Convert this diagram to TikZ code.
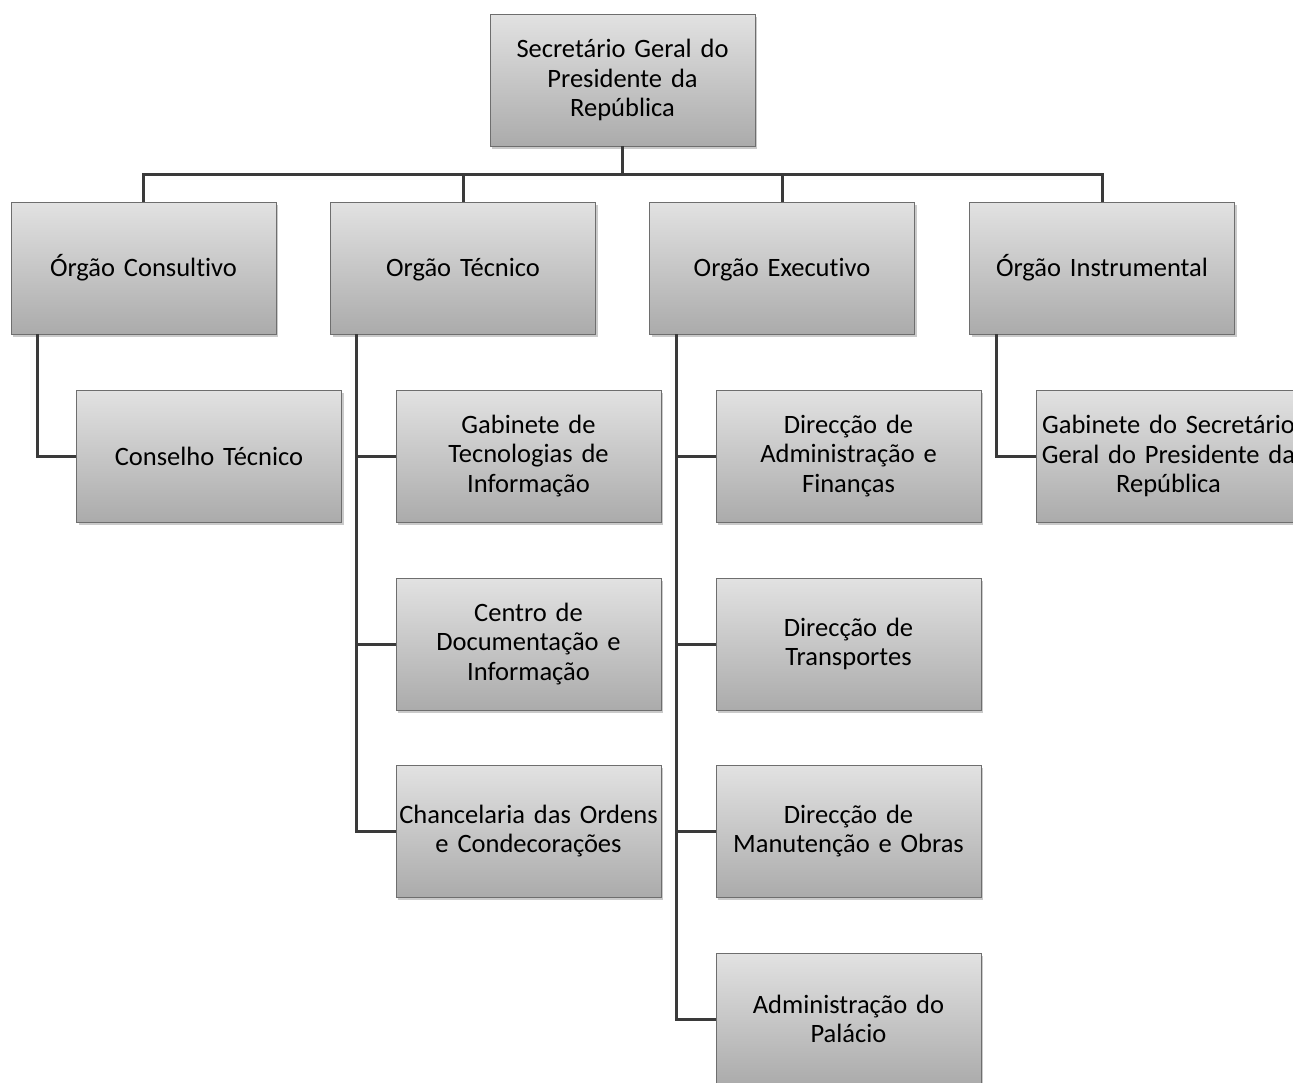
\documentclass[tikz,border=0pt]{standalone}
\usepackage{fontspec}
\setmainfont{Carlito}[Ligatures=NoCommon]
\usetikzlibrary{shadows}
\definecolor{boxtop}{HTML}{E2E2E2}
\definecolor{boxbot}{HTML}{ABABAB}
\definecolor{boxline}{HTML}{6E6E6E}
\definecolor{conn}{HTML}{3A3A3A}
\tikzset{
  orgbox/.style={draw=boxline, line width=0.8pt, top color=boxtop, bottom color=boxbot,
    minimum width=265pt, minimum height=132pt, inner sep=0pt, align=center,
    text width=264pt, font=\fontsize{26.5}{29.5}\selectfont,
    drop shadow={opacity=0.35, shadow xshift=2pt, shadow yshift=-3pt, fill=black!60}},
  link/.style={draw=conn, line width=3pt}
}
\begin{document}
\begin{tikzpicture}[x=1pt,y=-1pt]
\useasboundingbox (0,0) rectangle (1293,1082);
% top
\node[orgbox] (top) at (622.5,80) {Secretário Geral do\\Presidente da\\República};
% level 1
\node[orgbox] (c1) at (143.5,268) {Órgão Consultivo};
\node[orgbox] (c2) at (463,268) {\vphantom{Ó}Orgão Técnico};
\node[orgbox] (c3) at (782,268) {\vphantom{Ó}Orgão Executivo};
\node[orgbox] (c4) at (1102,268) {Órgão Instrumental};
% level 2
\node[orgbox] (k1) at (209,456) {Conselho Técnico};
\node[orgbox] (t1) at (528.5,456) {Gabinete de\\Tecnologias de\\Informação};
\node[orgbox] (t2) at (528.5,644) {Centro de\\Documentação e\\Informação};
\node[orgbox] (t3) at (528.5,831) {Chancelaria das Ordens\\e Condecorações};
\node[orgbox] (e1) at (848.5,456) {Direcção de\\Administração e\\Finanças};
\node[orgbox] (e2) at (848.5,644) {Direcção de\\Transportes};
\node[orgbox] (e3) at (848.5,831) {Direcção de\\Manutenção e Obras};
\node[orgbox] (e4) at (848.5,1019) {Administração do\\Palácio};
\node[orgbox] (g1) at (1168.5,456) {Gabinete do Secretário\\Geral do Presidente da\\República};
% connectors
\coordinate (bus) at (622.5,174);
\draw[link] (top.south) -- (bus);
\draw[link] (c1.north) |- (bus) -| (c4.north);
\draw[link] (c2.north) -- (c2.north |- bus);
\draw[link] (c3.north) -- (c3.north |- bus);
\draw[link] ([xshift=27pt]c1.south west) |- (k1.west);
\draw[link] ([xshift=26pt]c2.south west) |- (t3.west);
\draw[link] ([xshift=26pt]c2.south west |- t1.west) -- (t1.west);
\draw[link] ([xshift=26pt]c2.south west |- t2.west) -- (t2.west);
\draw[link] ([xshift=27pt]c3.south west) |- (e4.west);
\draw[link] ([xshift=27pt]c3.south west |- e1.west) -- (e1.west);
\draw[link] ([xshift=27pt]c3.south west |- e2.west) -- (e2.west);
\draw[link] ([xshift=27pt]c3.south west |- e3.west) -- (e3.west);
\draw[link] ([xshift=27pt]c4.south west) |- (g1.west);
\end{tikzpicture}
\end{document}
